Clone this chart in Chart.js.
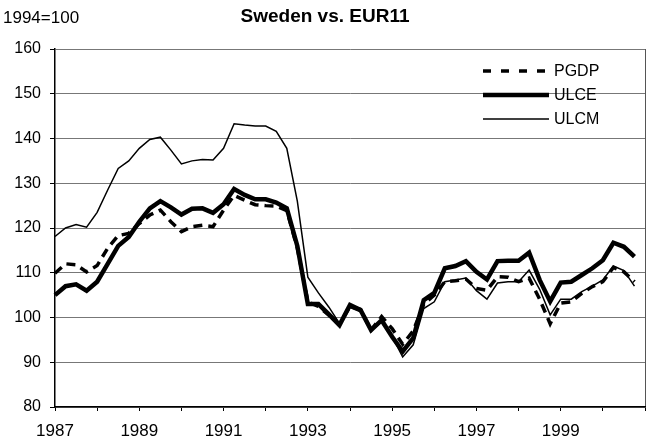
<!DOCTYPE html>
<html>
<head>
<meta charset="utf-8">
<script src="https://cdn.jsdelivr.net/npm/chart.js@4/dist/chart.umd.min.js"></script>
<style>
  html, body { margin: 0; padding: 0; background: #fff; }
  #wrap { width: 657px; height: 443px; }
</style>
</head>
<body>
<div id="wrap"><canvas id="myChart" width="657" height="443"></canvas></div>
<script>
// quarterly, 1987Q1 .. 2000Q4 (one empty slot at 2001Q1 closes the axis)
var years = [1987, 1988, 1989, 1990, 1991, 1992, 1993, 1994, 1995, 1996, 1997, 1998, 1999, 2000, 2001]
var quarters = []
years.forEach(function (y) {
  for (var q = 1; q <= 4; q++) quarters.push(y + 'Q' + q)
})
quarters = quarters.slice(0, 57)

var pgdp = [109.9, 112.0, 111.8, 110.2, 111.6, 115.5, 118.3, 118.8, 121.0, 122.9, 124.0, 121.4,
  119.2, 120.3, 120.6, 120.3, 124.0, 127.3, 126.2, 125.2, 125.0, 124.9, 123.9, 115.5,
  103.5, 102.5, 100.5, 98.5, 102.5, 101.8, 97.2, 100.2, 97.5, 94.0, 97.0, 103.0,
  105.0, 108.0, 108.2, 108.6, 106.5, 106.1, 109.1, 109.0, 108.0, 108.8, 104.1, 98.6,
  103.2, 103.5, 105.4, 106.9, 108.0, 111.2, 110.2, 108.0]
var ulce = [105.0, 107.0, 107.4, 106.0, 108.0, 112.0, 116.0, 118.0, 121.4, 124.4, 126.0, 124.6,
  123.0, 124.3, 124.4, 123.4, 125.3, 128.7, 127.4, 126.4, 126.4, 125.7, 124.4, 116.0,
  103.0, 103.0, 100.7, 98.3, 102.8, 101.7, 97.2, 99.4, 95.7, 92.4, 95.4, 103.9,
  105.5, 111.0, 111.5, 112.6, 110.2, 108.5, 112.6, 112.7, 112.7, 114.5, 108.4, 103.6,
  107.8, 108.0, 109.5, 111.0, 112.8, 116.7, 115.8, 113.6]
var ulcm = [118.1, 120.0, 120.8, 120.2, 123.5, 128.5, 133.3, 135.0, 137.8, 139.8, 140.3, 137.4,
  134.3, 135.0, 135.3, 135.2, 137.8, 143.3, 143.0, 142.8, 142.8, 141.6, 137.8, 126.0,
  109.0, 105.5, 102.3, 98.7, 102.2, 101.3, 97.0, 99.0, 95.7, 91.2, 93.9, 102.0,
  103.5, 108.0, 108.4, 108.8, 106.0, 104.1, 107.7, 108.0, 108.0, 110.6, 106.3, 100.6,
  104.1, 104.1, 105.8, 107.0, 108.4, 111.5, 110.5, 107.0]

var font = 'Arial, "Liberation Sans", sans-serif'

var legendAndTitle = {
  id: 'legendAndTitle',
  afterDraw: function (chart) {
    var c = chart.ctx
    c.save()
    c.fillStyle = '#000'
    c.textBaseline = 'middle'
    c.font = 'bold 19px ' + font
    c.textAlign = 'center'
    c.fillText('Sweden vs. EUR11', 325, 17)
    c.font = '17px ' + font
    c.textAlign = 'left'
    c.fillText('1994=100', 3, 18)

    var rows = [71, 95, 119]
    c.font = '16px ' + font
    chart.data.datasets.forEach(function (ds, i) {
      var y = rows[i]
      c.beginPath()
      c.strokeStyle = '#000'
      c.lineWidth = ds.borderWidth
      c.setLineDash(ds.legendDash || [])
      c.moveTo(483, y)
      c.lineTo(549, y)
      c.stroke()
      c.setLineDash([])
      c.fillText(ds.label, 554, y + 1)
    })
    c.restore()
  }
}

var ctx = document.getElementById('myChart')
var chart = new Chart(ctx, {
  type: 'line',
  data: {
    labels: quarters,
    datasets: [
      { label: 'PGDP', data: pgdp, borderColor: '#000', borderWidth: 3.5, borderDash: [9, 6], legendDash: [8, 10] },
      { label: 'ULCE', data: ulce, borderColor: '#000', borderWidth: 4.5 },
      { label: 'ULCM', data: ulcm, borderColor: '#000', borderWidth: 1.5 }
    ]
  },
  options: {
    responsive: false,
    animation: false,
    layout: { padding: { top: 49, right: 12, left: 0, bottom: 0 } },
    elements: { point: { radius: 0 }, line: { tension: 0 } },
    plugins: { legend: { display: false }, tooltip: { enabled: false } },
    scales: {
      x: {
        offset: false,
        afterFit: function (s) { s.height = 36 },
        border: { color: '#000', width: 1.5 },
        grid: {
          drawOnChartArea: true,
          tickLength: 4,
          color: function (c) { return c.index === 56 ? '#555' : 'rgba(0,0,0,0)' },
          borderDash: [3, 2],
          tickColor: function (c) { return c.index % 4 === 0 ? '#000' : 'rgba(0,0,0,0)' },
          tickBorderDash: []
        },
        ticks: {
          autoSkip: false,
          maxRotation: 0,
          padding: 10,
          color: '#000',
          font: { family: font, size: 17 },
          callback: function (v, i) { return (i % 8 === 0 && i < 56) ? this.getLabelForValue(v).slice(0, 4) : '' }
        }
      },
      y: {
        min: 80,
        max: 160,
        afterFit: function (s) { s.width = 55 },
        border: { color: '#000', width: 1.5 },
        grid: {
          color: '#777',
          lineWidth: 1,
          borderDash: [3, 4],
          tickLength: 5,
          tickColor: '#000',
          tickBorderDash: []
        },
        ticks: {
          stepSize: 10,
          padding: 9,
          color: '#000',
          font: { family: font, size: 16 }
        }
      }
    }
  },
  plugins: [legendAndTitle]
})
</script>
</body>
</html>
